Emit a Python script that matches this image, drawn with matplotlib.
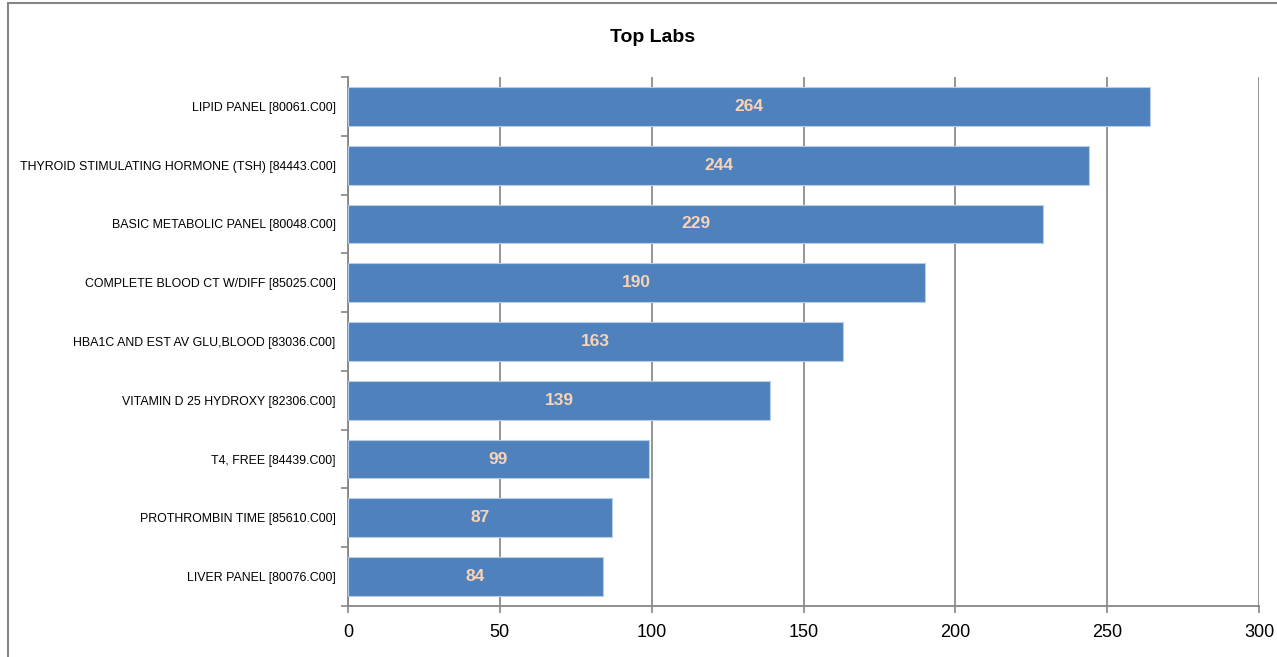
import matplotlib.pyplot as plt
from matplotlib.patches import Rectangle

labs = [
    "LIPID PANEL [80061.C00]",
    "THYROID STIMULATING HORMONE (TSH) [84443.C00]",
    "BASIC METABOLIC PANEL [80048.C00]",
    "COMPLETE BLOOD CT W/DIFF [85025.C00]",
    "HBA1C AND EST AV GLU,BLOOD [83036.C00]",
    "VITAMIN D 25 HYDROXY [82306.C00]",
    "T4, FREE [84439.C00]",
    "PROTHROMBIN TIME [85610.C00]",
    "LIVER PANEL [80076.C00]",
]
counts = [264, 244, 229, 190, 163, 139, 99, 87, 84]
xticks = [0, 50, 100, 150, 200, 250, 300]

plt.rcParams['font.family'] = ['Liberation Sans', 'DejaVu Sans']

fig = plt.figure(figsize=(12.77, 6.57), dpi=100)
ax = fig.add_axes([348 / 1277, 1 - 606 / 657, 911 / 1277, 529 / 657])

# chart border (right and bottom edges fall outside the picture)
fig.patches.append(Rectangle((8 / 1277, -0.01), 1.0, 1 - 3 / 657 + 0.01,
                             transform=fig.transFigure, fill=False,
                             edgecolor='#868686', linewidth=1.5))

y = list(range(len(labs)))
ax.barh(y, counts, height=0.66, color='#4F81BD', edgecolor='#B9CDE5',
        linewidth=0.8, zorder=3)
for yy, v in zip(y, counts):
    ax.text(v / 2, yy, str(v), ha='center', va='center', color='#FAD3B5',
            fontsize=12.5, fontweight='bold', zorder=4)

ax.set_xlim(0, 300)
ax.set_ylim(len(labs) - 0.5, -0.5)
ax.set_xticks(xticks)
ax.set_xticklabels([str(t) for t in xticks], fontsize=13)
ax.set_yticks(y)
ax.set_yticklabels(labs, fontsize=8.9)
ax.tick_params(axis='y', length=0, pad=9)
ax.set_yticks([i - 0.5 for i in range(len(labs) + 1)], minor=True)
ax.tick_params(axis='y', which='minor', length=5, color='#868686', width=1.2)
ax.tick_params(axis='x', length=5, color='#868686', width=1.2, pad=8)
ax.grid(axis='x', color='#8C8C8C', linewidth=1.3, zorder=0)
for s in ['top', 'right']:
    ax.spines[s].set_visible(False)
for s in ['left', 'bottom']:
    ax.spines[s].set_color('#868686')
    ax.spines[s].set_linewidth(1.3)

fig.text(653 / 1277, 1 - 37 / 657, "Top Labs", ha='center', va='center',
         fontsize=14, fontweight='bold')

fig.savefig('out.png', dpi=100)
